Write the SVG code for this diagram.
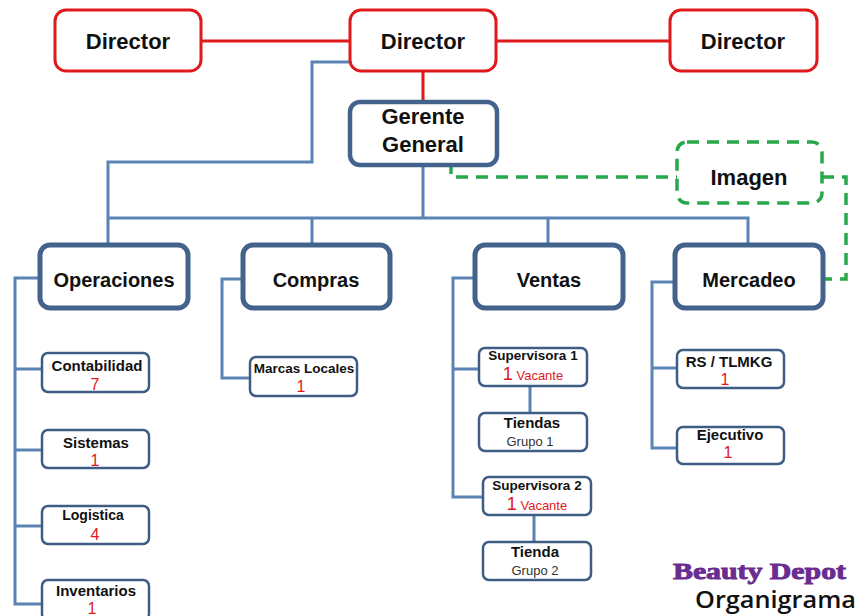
<svg xmlns="http://www.w3.org/2000/svg" width="860" height="616" viewBox="0 0 860 616">
<style>
.dir{fill:#fff;stroke:#e0191c;stroke-width:3}
.red{stroke:#e0191c;stroke-width:3;fill:none}
.gg{fill:#fff;stroke:#43638c;stroke-width:4.5}
.l2{fill:#fff;stroke:#43638c;stroke-width:5}
.sm{fill:#fff;stroke:#3f5d84;stroke-width:2.5}
.ln{stroke:#5b84b4;stroke-width:3;fill:none}
.gr{stroke:#27a84a;stroke-width:3.5;fill:none;stroke-dasharray:12 8}
.t{font-family:"Liberation Sans",Arial,sans-serif;font-weight:bold;fill:#111;text-anchor:middle}
.n{font-family:"Liberation Sans",Arial,sans-serif;fill:#e0191c;text-anchor:middle}
.g{font-family:"Liberation Sans",Arial,sans-serif;fill:#333;text-anchor:middle}
</style>
<rect width="860" height="616" fill="#fff"/>
<g id="connectors">
<path class="red" d="M201 41H350M496 41H670M423 71V102"/>
<path class="ln" d="M350 62H312V162H108V247M108 218H748V247M423 165V218M312 218V247M548 218V247"/>
<path class="ln" d="M40 278H15V604H42M15 369H42M15 450H42M15 526H42"/>
<path class="ln" d="M243 279H222V378H250"/>
<path class="ln" d="M475 278H453V497H483M453 369H479M530 386V413M534 515V542"/>
<path class="ln" d="M675 282H652V448H677M652 368H677"/>
<path class="gr" d="M451 162V177H677M822 177H846V279H825"/>
</g>
<g id="director-left"><rect class="dir" x="55" y="10" width="146" height="61" rx="11"/><text class="t" x="128" y="49" font-size="22">Director</text></g>
<g id="director-center"><rect class="dir" x="350" y="10" width="146" height="61" rx="11"/><text class="t" x="423" y="49" font-size="22">Director</text></g>
<g id="director-right"><rect class="dir" x="670" y="10" width="147" height="61" rx="11"/><text class="t" x="743" y="49" font-size="22">Director</text></g>
<g id="gerente"><rect class="gg" x="350" y="102" width="147" height="63" rx="10"/><text class="t" x="423" y="124" font-size="22">Gerente</text><text class="t" x="423" y="152" font-size="22">General</text></g>
<g id="imagen"><rect class="gr" x="677" y="142" width="145" height="61" rx="10"/><text class="t" x="749" y="185" font-size="22">Imagen</text></g>
<g id="operaciones"><rect class="l2" x="40" y="245" width="148" height="63" rx="10"/><text class="t" x="114" y="287" font-size="20">Operaciones</text></g>
<g id="compras"><rect class="l2" x="243" y="245" width="147" height="63" rx="10"/><text class="t" x="316" y="287" font-size="20">Compras</text></g>
<g id="ventas"><rect class="l2" x="475" y="245" width="148" height="63" rx="10"/><text class="t" x="549" y="287" font-size="20">Ventas</text></g>
<g id="mercadeo"><rect class="l2" x="675" y="245" width="148" height="63" rx="10"/><text class="t" x="749" y="287" font-size="20">Mercadeo</text></g>
<g id="contabilidad"><rect class="sm" x="42" y="353" width="107" height="39" rx="6"/><text class="t" x="97" y="371" font-size="15">Contabilidad</text><text class="n" x="95" y="390" font-size="16">7</text></g>
<g id="sistemas"><rect class="sm" x="42" y="430" width="107" height="38" rx="6"/><text class="t" x="96" y="448" font-size="15">Sistemas</text><text class="n" x="95" y="466" font-size="16">1</text></g>
<g id="logistica"><rect class="sm" x="42" y="506" width="107" height="38" rx="6"/><text class="t" x="93" y="520" font-size="14">Logistica</text><text class="n" x="95" y="540" font-size="16">4</text></g>
<g id="inventarios"><rect class="sm" x="42" y="580" width="107" height="40" rx="6"/><text class="t" x="96" y="596" font-size="15">Inventarios</text><text class="n" x="92" y="614" font-size="16">1</text></g>
<g id="marcas"><rect class="sm" x="250" y="357" width="107" height="39" rx="6"/><text class="t" x="304" y="373" font-size="13.5">Marcas Locales</text><text class="n" x="301" y="392" font-size="16">1</text></g>
<g id="supervisora1"><rect class="sm" x="479" y="348" width="108" height="38" rx="6"/><text class="t" x="533" y="360" font-size="13.5">Supervisora 1</text><text class="n" x="533" y="380"><tspan font-size="18">1</tspan><tspan font-size="13"> Vacante</tspan></text></g>
<g id="tiendas1"><rect class="sm" x="479" y="413" width="108" height="38" rx="6"/><text class="t" x="532" y="428" font-size="15">Tiendas</text><text class="g" x="530" y="446" font-size="13">Grupo 1</text></g>
<g id="supervisora2"><rect class="sm" x="483" y="477" width="108" height="38" rx="6"/><text class="t" x="537" y="490" font-size="13.5">Supervisora 2</text><text class="n" x="537" y="510"><tspan font-size="18">1</tspan><tspan font-size="13"> Vacante</tspan></text></g>
<g id="tienda2"><rect class="sm" x="483" y="542" width="108" height="38" rx="6"/><text class="t" x="535" y="557" font-size="15">Tienda</text><text class="g" x="535" y="575" font-size="13">Grupo 2</text></g>
<g id="rs"><rect class="sm" x="677" y="350" width="107" height="38" rx="6"/><text class="t" x="729" y="367" font-size="15">RS / TLMKG</text><text class="n" x="725" y="385" font-size="16">1</text></g>
<g id="ejecutivo"><rect class="sm" x="677" y="427" width="107" height="37" rx="6"/><text class="t" x="730" y="440" font-size="15">Ejecutivo</text><text class="n" x="728" y="458" font-size="16">1</text></g>
<g id="title">
<text x="673" y="579" font-family="'Liberation Serif',serif" font-weight="bold" font-size="23" fill="#6a2c91" stroke="#6a2c91" stroke-width="0.9" textLength="173" lengthAdjust="spacingAndGlyphs">Beauty Depot</text>
<text x="695" y="608" font-family="'Open Sans',sans-serif" font-weight="600" font-size="23" fill="#111" textLength="161" lengthAdjust="spacingAndGlyphs">Organigrama</text>
</g>
</svg>
